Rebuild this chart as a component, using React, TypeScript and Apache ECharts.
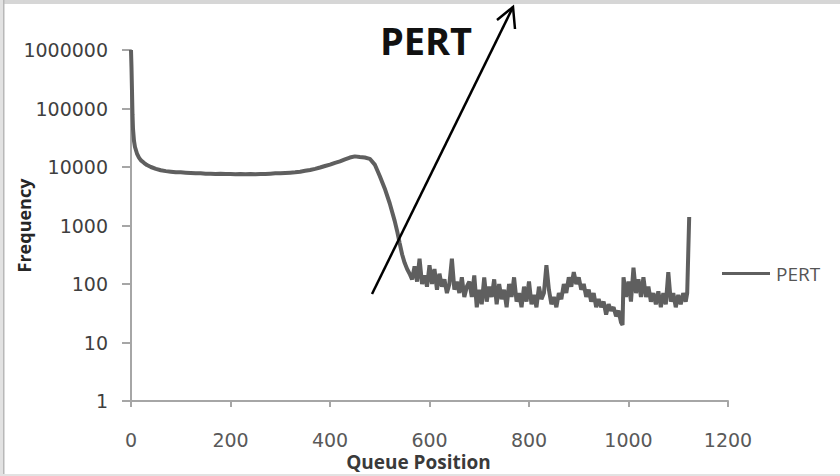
import React, { useEffect, useRef } from "react";
import * as echarts from "echarts";

// ---- data ----
const headPositions = [0, 1, 2, 3, 4, 6, 8, 12, 16, 20, 26, 32, 40, 50, 60, 70, 80, 90, 100, 110, 120, 130, 140, 150, 160, 170, 180, 190, 200, 210, 220, 230, 240, 250, 260, 270, 280, 290, 300, 310, 320, 330, 340, 350, 360, 370, 380, 390, 400, 410, 420, 430, 440, 450, 460, 470, 480, 490, 500, 510, 520, 530, 535, 540, 545, 550, 555, 560];
const headFrequency = [1000000, 500000, 200000, 80000, 45000, 28000, 22000, 17000, 14500, 13000, 11800, 10800, 10000, 9300, 8800, 8500, 8300, 8100, 8100, 8000, 7900, 7800, 7800, 7700, 7700, 7600, 7700, 7600, 7600, 7500, 7600, 7500, 7600, 7500, 7600, 7600, 7700, 7800, 7800, 7900, 8000, 8100, 8300, 8600, 8900, 9300, 9800, 10400, 11000, 11800, 12500, 13500, 14500, 15200, 14800, 14500, 13800, 11000, 7000, 4300, 2400, 1200, 800, 500, 320, 230, 180, 150];

const tailPositions = [565, 570, 575, 580, 585, 590, 595, 600, 605, 610, 615, 620, 625, 630, 635, 640, 645, 650, 655, 660, 665, 670, 675, 680, 685, 690, 695, 700, 705, 710, 715, 720, 725, 730, 735, 740, 745, 750, 755, 760, 765, 770, 775, 780, 785, 790, 795, 800, 805, 810, 815, 820, 825, 830, 835, 840, 845, 850, 855, 860, 865, 870, 875, 880, 885, 890, 895, 900, 905, 910, 915, 920, 925, 930, 935, 940, 945, 950, 955, 960, 965, 970, 975, 980, 985, 988, 990, 995, 1000, 1005, 1010, 1015, 1020, 1025, 1030, 1035, 1040, 1045, 1050, 1055, 1060, 1065, 1070, 1075, 1080, 1085, 1090, 1095, 1100, 1105, 1110, 1115, 1118, 1122];
const tailFrequency = [120, 200, 110, 270, 100, 140, 90, 210, 100, 180, 80, 150, 90, 120, 70, 100, 270, 80, 110, 70, 130, 60, 90, 110, 60, 140, 40, 80, 45, 130, 50, 90, 60, 120, 45, 100, 55, 80, 40, 100, 60, 130, 50, 70, 40, 90, 50, 110, 45, 65, 40, 90, 55, 70, 210, 80, 45, 60, 40, 70, 55, 100, 70, 130, 90, 160, 100, 130, 80, 100, 60, 80, 50, 70, 40, 55, 40, 50, 30, 45, 35, 40, 28, 35, 22, 20, 130, 60, 110, 50, 190, 70, 120, 60, 130, 60, 90, 50, 70, 45, 75, 40, 70, 45, 160, 50, 70, 40, 65, 45, 70, 50, 70, 1400];

const xTicks = [0, 200, 400, 600, 800, 1000, 1200];
const yTicks = [1, 10, 100, 1000, 10000, 100000, 1000000];
const seriesName = "PERT";
const titleText = "PERT";
const xName = "Queue Position";
const yName = "Frequency";

export default function App() {
  const ref = useRef<HTMLDivElement>(null);
  useEffect(() => {
    document.body.style.margin = "0";
    if (!ref.current) return;
    const chart = echarts.init(ref.current, undefined, { renderer: "svg" });
    const positions = headPositions.concat(tailPositions);
    const freqs = headFrequency.concat(tailFrequency);
    const data = positions.map((p, i) => [p, freqs[i]]);
    const tickFont = "DejaVu Sans";
    chart.setOption({
      animation: false,
      backgroundColor: "#ffffff",
      grid: { left: 131, right: 112, top: 50, bottom: 75, containLabel: false, outerBoundsMode: "none" },
      legend: {
        show: true,
        left: 717,
        top: 259,
        icon: "rect",
        itemWidth: 48,
        itemHeight: 3,
        itemGap: 5,
        textStyle: { fontFamily: "Open Sans", fontSize: 19, color: "#555555", padding: [0, 0, 0, 1] },
        data: [seriesName],
      },
      xAxis: {
        type: "value",
        min: xTicks[0],
        max: xTicks[xTicks.length - 1],
        interval: 200,
        name: xName,
        nameLocation: "middle",
        nameGap: 52,
        nameMoveOverlap: false,
        nameTextStyle: { fontFamily: "Open Sans", fontWeight: "bold", fontSize: 19, lineHeight: 18, color: "#3a3a3a", padding: [0, 22, 0, 0] },
        axisLine: { show: true, lineStyle: { color: "#a6a6a6", width: 2 } },
        axisTick: { show: true, length: 6, inside: false, lineStyle: { color: "#a6a6a6", width: 2 } },
        axisLabel: { margin: 30, fontFamily: tickFont, fontSize: 19, lineHeight: 17, color: "#595959", formatter: (v: number) => String(v) },
        splitLine: { show: false },
      },
      yAxis: {
        type: "log",
        logBase: 10,
        min: yTicks[0],
        max: yTicks[yTicks.length - 1],
        name: yName,
        nameLocation: "middle",
        nameGap: 98,
        nameRotate: 90,
        nameMoveOverlap: false,
        nameTextStyle: { fontFamily: "Open Sans", fontWeight: "bold", fontSize: 18, color: "#262626" },
        axisLine: { show: true, lineStyle: { color: "#a6a6a6", width: 2 } },
        axisTick: { show: true, length: 9, inside: false, lineStyle: { color: "#a6a6a6", width: 2 } },
        axisLabel: { margin: 23, fontFamily: tickFont, fontSize: 19, color: "#3f3f3f", formatter: (v: number) => String(Math.round(v)) },
        splitLine: { show: false },
        minorTick: { show: false },
      },
      series: [
        {
          name: seriesName,
          type: "line",
          data,
          showSymbol: false,
          symbol: "none",
          silent: true,
          itemStyle: { color: "#5f5f5f" },
          lineStyle: { color: "#5f5f5f", width: 4 },
          z: 3,
        },
      ],
      graphic: [
        { type: "rect", shape: { x: 0, y: 0, width: 840, height: 4 }, style: { fill: "#d6d6d6" }, silent: true },
        { type: "rect", shape: { x: 0, y: 0, width: 3, height: 476 }, style: { fill: "#e2e2e2" }, silent: true },
        { type: "rect", shape: { x: 3, y: 0, width: 1.5, height: 476 }, style: { fill: "#b8b8b8" }, silent: true },
        { type: "rect", shape: { x: 0, y: 474, width: 840, height: 2 }, style: { fill: "#e2e2e2" }, silent: true },
        {
          type: "text",
          x: 426,
          y: 40,
          style: { text: titleText, fontFamily: "Open Sans", fontWeight: "bold", fontSize: 38, fill: "#111111", textAlign: "center", textVerticalAlign: "middle" },
          z: 10,
        },
        { type: "line", shape: { x1: 372, y1: 294, x2: 513, y2: 7 }, style: { stroke: "#000000", lineWidth: 2.5 }, z: 10 },
        { type: "polyline", shape: { points: [[497, 20], [513, 7], [515, 29]] }, style: { stroke: "#000000", lineWidth: 2.5, fill: "none" }, z: 10 },
      ],
    });
    return () => chart.dispose();
  }, []);
  return <div ref={ref} style={{ position: "fixed", left: 0, top: 0, width: 840, height: 476 }} />;
}
